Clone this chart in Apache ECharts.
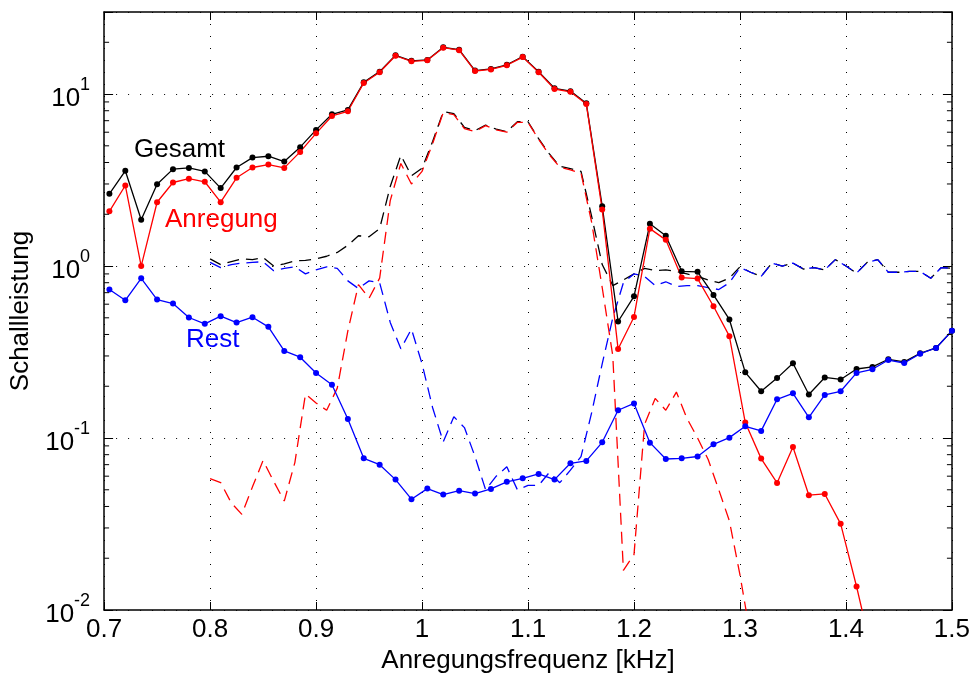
<!DOCTYPE html>
<html>
<head>
<meta charset="utf-8">
<script src="https://cdn.jsdelivr.net/npm/echarts@6/dist/echarts.min.js"></script>
<style>
html,body{margin:0;padding:0;background:#fff;}
#c{width:973px;height:680px;}
</style>
</head>
<body>
<div id="c"></div>
<script>
// ---- data ----
const freqCoarse = [0.705,0.72,0.735,0.75,0.765,0.78,0.795,0.81,0.825,0.84,0.855,0.87,0.885,0.9,0.915,0.93,0.945,0.96,0.975,0.99,1.005,1.02,1.035,1.05,1.065,1.08,1.095,1.11,1.125,1.14,1.155,1.17,1.185,1.2,1.215,1.23,1.245,1.26,1.275,1.29,1.305,1.32,1.335,1.35,1.365,1.38,1.395,1.41,1.425,1.44,1.455,1.47,1.485,1.5];
const gesamt = [2.63,3.58,1.86,2.99,3.66,3.72,3.55,2.84,3.74,4.27,4.35,4.05,4.91,6.19,7.63,8.09,11.7,13.5,16.8,15.6,15.8,18.7,18.1,13.7,14.0,14.8,16.5,13.5,10.8,10.4,8.83,2.23,0.476,0.667,1.76,1.50,0.932,0.925,0.679,0.489,0.241,0.187,0.223,0.272,0.179,0.225,0.219,0.252,0.259,0.287,0.277,0.311,0.334,0.420];
const anregung = [2.08,2.94,1.0,2.35,3.06,3.22,3.09,2.35,3.26,3.74,3.89,3.72,4.61,5.91,7.46,7.94,11.6,13.4,16.7,15.5,15.7,18.6,18.0,13.6,13.9,14.7,16.4,13.4,10.7,10.3,8.75,2.13,0.329,0.506,1.65,1.42,0.857,0.845,0.584,0.391,0.123,0.0759,0.0548,0.0887,0.0465,0.0473,0.0317,0.0137,0.0055,null,null,null,null,null];
const rest = [0.730,0.632,0.849,0.638,0.605,0.502,0.461,0.511,0.469,0.504,0.443,0.321,0.295,0.239,0.204,0.129,0.0762,0.070,0.0573,0.0441,0.0508,0.0469,0.0494,0.0475,0.0506,0.0556,0.0583,0.0618,0.0573,0.0713,0.0736,0.0944,0.145,0.159,0.094,0.0755,0.0762,0.0781,0.0919,0.1005,0.117,0.110,0.168,0.182,0.132,0.178,0.187,0.239,0.251,0.284,0.273,0.309,0.334,0.420];

const freqFine = [0.80,0.81,0.82,0.83,0.84,0.85,0.86,0.87,0.88,0.89,0.90,0.91,0.92,0.93,0.94,0.95,0.96,0.97,0.98,0.99,1.00,1.01,1.02,1.03,1.04,1.05,1.06,1.07,1.08,1.09,1.10,1.11,1.12,1.13,1.14,1.15,1.16,1.17,1.18,1.19,1.20,1.21,1.22,1.23,1.24,1.25,1.26,1.27,1.28,1.29,1.30,1.31,1.32,1.33,1.34,1.35,1.36,1.37,1.38,1.39,1.40,1.41,1.42,1.43,1.44,1.45,1.46,1.47,1.48,1.49,1.50];
const gesamtFine = [1.10,1.02,1.06,1.10,1.09,1.12,1.00,1.03,1.07,1.08,1.10,1.14,1.20,1.32,1.50,1.48,1.65,2.90,4.40,3.35,3.70,5.30,7.90,7.70,6.40,6.13,6.60,6.25,6.05,6.90,6.90,5.50,4.50,3.80,3.68,3.55,1.95,1.02,0.77,0.83,0.90,0.97,0.94,0.95,0.93,0.90,0.87,0.83,0.80,0.85,0.99,0.92,0.87,1.04,1.00,1.04,0.96,0.98,0.95,1.09,1.00,0.91,1.05,1.09,0.92,0.92,0.93,0.93,0.85,0.98,0.97];
const anregungFine = [0.058,0.055,0.042,0.036,0.052,0.074,0.056,0.043,0.072,0.18,0.16,0.145,0.195,0.42,0.78,0.65,0.85,2.40,3.95,3.00,3.55,5.15,7.80,7.60,6.30,6.05,6.55,6.20,6.00,6.85,6.85,5.45,4.45,3.75,3.62,3.47,1.80,0.75,0.30,0.017,0.021,0.12,0.17,0.145,0.185,0.13,0.10,0.075,0.05,0.033,0.016,0.007,null,null,null,null,null,null,null,null,null,null,null,null,null,null,null,null,null,null,null];
const restFine = [1.05,0.98,1.02,1.04,1.05,1.06,0.94,0.97,0.99,0.90,0.95,0.99,0.97,0.82,0.74,0.82,0.80,0.47,0.33,0.43,0.27,0.15,0.095,0.133,0.115,0.078,0.050,0.060,0.068,0.050,0.053,0.053,0.063,0.055,0.065,0.078,0.14,0.27,0.50,0.80,0.90,0.87,0.77,0.81,0.76,0.77,0.77,0.75,0.73,0.80,0.98,0.92,0.87,1.04,1.00,1.04,0.96,0.98,0.95,1.09,1.00,0.91,1.05,1.09,0.92,0.92,0.93,0.93,0.85,0.98,0.97];

const xTicks = ['0.7','0.8','0.9','1','1.1','1.2','1.3','1.4','1.5'];
const minorTickValues = [0.02,0.03,0.04,0.05,0.06,0.07,0.08,0.09,0.2,0.3,0.4,0.5,0.6,0.7,0.8,0.9,2,3,4,5,6,7,8,9,20];
const labels = [
  {text:'Gesamt', color:'#000000'},
  {text:'Anregung', color:'#ff0000'},
  {text:'Rest', color:'#0000ff'}
];

// ---- chart ----
const FONT = '"Liberation Sans", Arial, Helvetica, sans-serif';
const FS = 26;
const pair = (xs, ys) => xs.map((x, i) => [x, ys[i]]);
const chart = echarts.init(document.getElementById('c'), null, {renderer: 'canvas'});

const X0 = 0.7, X1 = 1.5, Y0 = 0.01, Y1 = 30;

function solid(name, color, ys) {
  return {
    name, type: 'line', data: pair(freqCoarse, ys), xAxisIndex: 0, yAxisIndex: 0,
    symbol: 'circle', symbolSize: 6, showSymbol: true, clip: true,
    lineStyle: {color, width: 1.3}, itemStyle: {color},
    connectNulls: false, animation: false, z: 3
  };
}
function dashed(name, color, ys) {
  return {
    name, type: 'line', data: pair(freqFine, ys), xAxisIndex: 0, yAxisIndex: 0,
    symbol: 'none', clip: true,
    lineStyle: {color, width: 1.3, type: [12, 7]},
    connectNulls: false, animation: false, z: 2
  };
}

const axisLineStyle = {color: '#000', width: 1.5};

const option = {
  animation: false,
  backgroundColor: '#fff',
  textStyle: {fontFamily: FONT},
  grid: {left: 100, top: 12, width: 853, height: 598, containLabel: false},
  xAxis: [
    {
      type: 'value', min: X0, max: X1, interval: 0.1, position: 'bottom',
      axisLine: {show: true, onZero: false, lineStyle: axisLineStyle},
      axisTick: {show: true, inside: true, length: 8, lineStyle: {color: '#000', width: 1}},
      axisLabel: {
        color: '#000', fontSize: FS, fontFamily: FONT, margin: 7,
        formatter: (v) => xTicks[Math.round((v - X0) * 10)]
      },
      splitLine: {show: true, lineStyle: {color: '#000', width: 1, type: [1, 11]}},
      name: 'Anregungsfrequenz [kHz]', nameLocation: 'middle', nameGap: 38,
      nameTextStyle: {color: '#000', fontSize: FS, fontFamily: FONT, verticalAlign: 'top'}
    },
    {
      type: 'value', min: X0, max: X1, interval: 0.1, position: 'top',
      axisLine: {show: true, onZero: false, lineStyle: axisLineStyle},
      axisTick: {show: true, inside: true, length: 8, lineStyle: {color: '#000', width: 1}},
      axisLabel: {show: false}, splitLine: {show: false}
    }
  ],
  yAxis: [
    {
      type: 'log', logBase: 10, min: Y0, max: Y1, position: 'left',
      axisLine: {show: true, onZero: false, lineStyle: axisLineStyle},
      axisTick: {show: true, inside: true, length: 9, lineStyle: {color: '#000', width: 1}},
      axisLabel: {
        color: '#000', fontFamily: FONT, margin: 14,
        formatter: (v) => {
          const e = Math.log10(v);
          if (Math.abs(e - Math.round(e)) > 1e-6) return '';
          return '{sp| }{b|10}{s|' + Math.round(e) + '}';
        },
        rich: {
          sp: {fontSize: 1, lineHeight: 36},
          b: {fontSize: FS, lineHeight: 26, verticalAlign: 'bottom', color: '#000', fontFamily: FONT},
          s: {fontSize: 18, lineHeight: 18, verticalAlign: 'top', color: '#000', fontFamily: FONT}
        }
      },
      splitLine: {show: true, lineStyle: {color: '#000', width: 1, type: [1, 11]}},
      name: 'Schallleistung', nameLocation: 'middle', nameGap: 66, nameRotate: 90,
      nameTextStyle: {color: '#000', fontSize: FS, fontFamily: FONT}
    },
    {
      type: 'log', logBase: 10, min: Y0, max: Y1, position: 'right',
      axisLine: {show: true, onZero: false, lineStyle: axisLineStyle},
      axisTick: {show: true, inside: true, length: 9, lineStyle: {color: '#000', width: 1}},
      axisLabel: {show: false}, splitLine: {show: false}
    }
  ],
  series: [
    {
      type: 'custom', xAxisIndex: 0, yAxisIndex: 0, silent: true, z: 5,
      data: minorTickValues.map(v => [X0, v]),
      encode: {x: 0, y: 1},
      renderItem: (params, api) => {
        const v = api.value(1);
        const pL = api.coord([X0, v]);
        const pR = api.coord([X1, v]);
        return {
          type: 'group',
          children: [
            {type: 'line', shape: {x1: pL[0], y1: pL[1], x2: pL[0] + 5, y2: pL[1]}, style: {stroke: '#000', lineWidth: 1}},
            {type: 'line', shape: {x1: pR[0] - 5, y1: pR[1], x2: pR[0], y2: pR[1]}, style: {stroke: '#000', lineWidth: 1}}
          ]
        };
      }
    },
    dashed('Gesamt (fein)', '#000000', gesamtFine),
    dashed('Anregung (fein)', '#ff0000', anregungFine),
    dashed('Rest (fein)', '#0000ff', restFine),
    solid('Gesamt', '#000000', gesamt),
    solid('Anregung', '#ff0000', anregung),
    solid('Rest', '#0000ff', rest)
  ],
  graphic: [
    {type: 'text', x: 134, y: 150, z: 10, style: {text: labels[0].text, fill: labels[0].color, font: FS + 'px ' + FONT, verticalAlign: 'middle'}},
    {type: 'text', x: 165, y: 220, z: 10, style: {text: labels[1].text, fill: labels[1].color, font: FS + 'px ' + FONT, verticalAlign: 'middle'}},
    {type: 'text', x: 186, y: 340, z: 10, style: {text: labels[2].text, fill: labels[2].color, font: FS + 'px ' + FONT, verticalAlign: 'middle'}}
  ]
};
chart.setOption(option);
</script>
</body>
</html>
